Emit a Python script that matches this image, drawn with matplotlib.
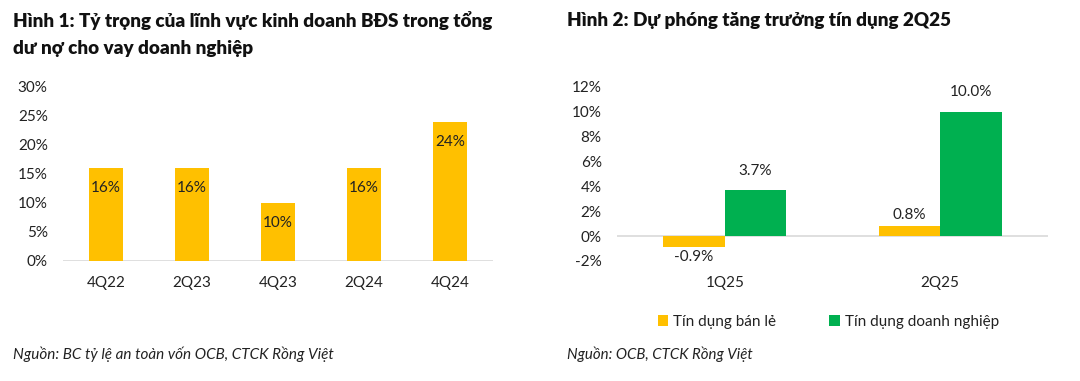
import matplotlib.pyplot as plt
import numpy as np

plt.rcParams['font.family'] = ['Lato', 'DejaVu Sans']

# Hình 1
quy_1 = ['4Q22', '2Q23', '4Q23', '2Q24', '4Q24']
ty_trong = [16, 16, 10, 16, 24]

# Hình 2
quy_2 = ['1Q25', '2Q25']
ban_le = [-0.9, 0.8]
doanh_nghiep = [3.7, 10.0]

cam = '#FFC000'
xanh = '#00B050'
chu = '#222222'

fig = plt.figure(figsize=(10.8, 3.81), dpi=100)

# --- bieu do trai
ax1 = fig.add_axes([0.0583, 0.315, 0.398, 0.4567])
x1 = np.arange(len(quy_1))
bars = ax1.bar(x1, ty_trong, width=0.4, color=cam, zorder=2)
for b, v in zip(bars, ty_trong):
    ax1.annotate(f'{v}%', (b.get_x() + b.get_width() / 2, v), xytext=(0, -14.5),
                 textcoords='offset points', ha='center', va='center', fontsize=11, color=chu)
ax1.axhline(0, color='#D9D9D9', lw=1.2, zorder=1)
ax1.set_xlim(-0.5, 4.5)
ax1.set_ylim(0, 30)
ax1.set_yticks(range(0, 31, 5))
ax1.set_yticklabels([f'{t}%' for t in range(0, 31, 5)])
ax1.set_xticks(x1)
ax1.set_xticklabels(quy_1)

# --- bieu do phai
ax2 = fig.add_axes([0.5713, 0.315, 0.399, 0.4567])
x2 = np.arange(len(quy_2))
w = 0.285
b1 = ax2.bar(x2 - w / 2, ban_le, width=w, color=cam, label='Tín dụng bán lẻ', zorder=2)
b2 = ax2.bar(x2 + w / 2, doanh_nghiep, width=w, color=xanh, label='Tín dụng doanh nghiệp', zorder=2)
for b, v in zip(b1, ban_le):
    if v < 0:
        ax2.annotate(f'{v:.1f}%', (b.get_x() + b.get_width() / 2, v), xytext=(0, -2),
                     textcoords='offset points', ha='center', va='top', fontsize=11, color=chu)
    else:
        ax2.annotate(f'{v:.1f}%', (b.get_x() + b.get_width() / 2, v), xytext=(0, 3),
                     textcoords='offset points', ha='center', va='bottom', fontsize=11, color=chu)
for b, v in zip(b2, doanh_nghiep):
    ax2.annotate(f'{v:.1f}%', (b.get_x() + b.get_width() / 2, v), xytext=(0, 9),
                 textcoords='offset points', ha='center', va='bottom', fontsize=11, color=chu)
ax2.axhline(0, color='#D9D9D9', lw=1.2, zorder=1)
ax2.set_xlim(-0.5, 1.5)
ax2.set_ylim(-2, 12)
ax2.set_yticks(range(-2, 13, 2))
ax2.set_yticklabels([f'{t}%' for t in range(-2, 13, 2)])
ax2.set_xticks(x2)
ax2.set_xticklabels(quy_2)
ax2.legend(loc='upper center', bbox_to_anchor=(0.49, -0.23), ncol=2, frameon=False,
           fontsize=11, handlelength=0.7, handleheight=0.7, handletextpad=0.3,
           columnspacing=3.5, labelcolor=chu)

for ax in (ax1, ax2):
    for s in ax.spines.values():
        s.set_visible(False)
    ax.tick_params(axis='both', length=0, labelsize=11, colors=chu)
    ax.tick_params(axis='y', pad=11)
    ax.tick_params(axis='x', pad=11)

# tieu de va nguon
fig.text(0.012, 0.947, 'Hình 1: Tỷ trọng của lĩnh vực kinh doanh BĐS trong tổng',
         fontsize=13.6, fontweight='heavy', color='#111111', va='center')
fig.text(0.012, 0.874, 'dư nợ cho vay doanh nghiệp',
         fontsize=13.6, fontweight='heavy', color='#111111', va='center')
fig.text(0.525, 0.947, 'Hình 2: Dự phóng tăng trưởng tín dụng 2Q25',
         fontsize=13.6, fontweight='heavy', color='#111111', va='center')
fig.text(0.012, 0.071, 'Nguồn: BC tỷ lệ an toàn vốn OCB, CTCK Rồng Việt',
         fontsize=11, style='italic', color=chu, va='center')
fig.text(0.525, 0.071, 'Nguồn: OCB, CTCK Rồng Việt',
         fontsize=10.8, style='italic', color=chu, va='center')

fig.savefig('out.png', dpi=100)
